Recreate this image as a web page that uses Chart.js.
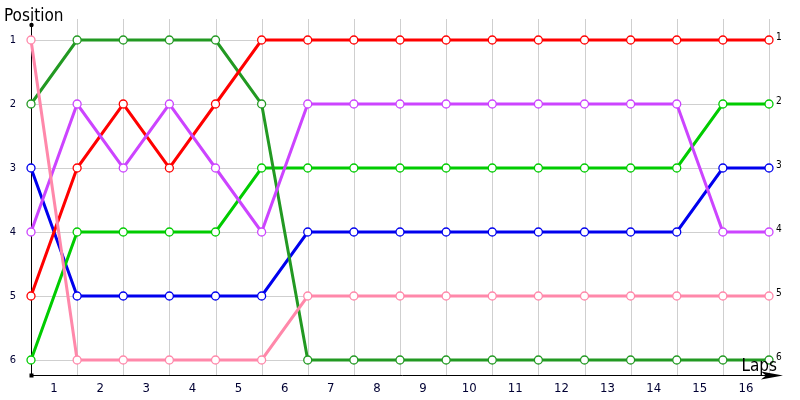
<!DOCTYPE html>
<html>
<head>
<meta charset="utf-8">
<script src="https://cdn.jsdelivr.net/npm/chart.js@4.4.1/dist/chart.umd.min.js"></script>
<style>
html,body{margin:0;padding:0;background:#fff;}
#wrap{width:800px;height:400px;position:relative;}
</style>
</head>
<body>
<div id="wrap"><canvas id="c" width="800" height="400"></canvas></div>
<script>
// ---- data ----
const laps = [0,1,2,3,4,5,6,7,8,9,10,11,12,13,14,15,16];
const lapLabels = ['1','2','3','4','5','6','7','8','9','10','11','12','13','14','15','16'];
const positionTicks = [1,2,3,4,5,6];
const seriesPink      = [1,6,6,6,6,6,5,5,5,5,5,5,5,5,5,5,5];
const seriesPurple    = [4,2,3,2,3,4,2,2,2,2,2,2,2,2,2,4,4];
const seriesRed       = [5,3,2,3,2,1,1,1,1,1,1,1,1,1,1,1,1];
const seriesDarkGreen = [2,1,1,1,1,2,6,6,6,6,6,6,6,6,6,6,6];
const seriesLightGreen= [6,4,4,4,4,3,3,3,3,3,3,3,3,3,3,2,2];
const seriesBlue      = [3,5,5,5,5,5,4,4,4,4,4,4,4,4,4,3,3];
const yTitle = 'Position';
const xTitle = 'Laps';

const FONT = '"DejaVu Sans Condensed","DejaVu Sans",sans-serif';

function ds(values, color){
  return {
    data: values.map((v,i)=>({x:laps[i], y:v})),
    borderColor: color,
    backgroundColor: '#ffffff',
    pointBackgroundColor: '#ffffff',
    pointBorderColor: color,
    pointRadius: 4,
    pointBorderWidth: 1.3,
    pointHoverRadius: 4,
    borderWidth: 3,
    tension: 0,
    clip: false
  };
}

const decor = {
  id: 'decor',
  beforeDatasetsDraw(chart){
    const ctx = chart.ctx, xs = chart.scales.x, ys = chart.scales.y;
    const x0 = xs.getPixelForValue(laps[0]);
    const x1 = xs.getPixelForValue(laps[laps.length-1]);
    const yTop = ys.getPixelForValue(1) - 21;
    const yAxis = ys.getPixelForValue(6) + 15;
    ctx.save();
    ctx.strokeStyle = '#cfcfcf';
    ctx.lineWidth = 1;
    laps.forEach(l=>{
      const px = Math.round(xs.getPixelForValue(l)) + 0.5;
      ctx.beginPath(); ctx.moveTo(px, yTop); ctx.lineTo(px, yAxis); ctx.stroke();
    });
    positionTicks.forEach(p=>{
      const py = Math.round(ys.getPixelForValue(p)) + 0.5;
      ctx.beginPath(); ctx.moveTo(x0, py); ctx.lineTo(x1, py); ctx.stroke();
    });
    // axes
    const ax = Math.round(x0) + 0.5, ay = Math.round(yAxis) + 0.5;
    ctx.strokeStyle = '#000';
    ctx.beginPath(); ctx.moveTo(ax, yTop + 6); ctx.lineTo(ax, ay); ctx.stroke();
    ctx.beginPath(); ctx.moveTo(ax, ay); ctx.lineTo(x1 + 4, ay); ctx.stroke();
    ctx.fillStyle = '#000';
    ctx.beginPath(); ctx.arc(ax, yTop + 6, 2.2, 0, Math.PI*2); ctx.fill();
    ctx.fillRect(ax - 2, ay - 2, 4, 4);
    // arrow head
    ctx.beginPath();
    ctx.moveTo(x1 + 14, ay);
    ctx.lineTo(x1 - 8, ay - 4);
    ctx.lineTo(x1 - 3, ay);
    ctx.lineTo(x1 - 8, ay + 4);
    ctx.closePath(); ctx.fill();
    ctx.restore();
  },
  afterDatasetsDraw(chart){
    const ctx = chart.ctx, xs = chart.scales.x, ys = chart.scales.y;
    const yAxis = ys.getPixelForValue(6) + 15;
    ctx.save();
    // y tick labels
    ctx.fillStyle = '#000033';
    ctx.font = '11px ' + FONT;
    ctx.textAlign = 'center'; ctx.textBaseline = 'middle';
    positionTicks.forEach(p=>{
      ctx.fillText(String(p), 13, ys.getPixelForValue(p));
    });
    // x tick labels centered between laps
    ctx.font = '13px ' + FONT;
    lapLabels.forEach((t,i)=>{
      const px = (xs.getPixelForValue(laps[i]) + xs.getPixelForValue(laps[i+1]))/2;
      ctx.fillText(t, px, yAxis + 14);
    });
    // end labels
    ctx.font = '10px ' + FONT;
    ctx.textAlign = 'left';
    ctx.fillStyle = '#000';
    chart.data.datasets.forEach((d,di)=>{
      const meta = chart.getDatasetMeta(di);
      const pt = meta.data[meta.data.length-1];
      const v = d.data[d.data.length-1].y;
      ctx.fillText(String(v), pt.x + 7, pt.y - 3);
    });
    // titles
    ctx.font = '17px ' + FONT;
    ctx.fillStyle = '#000';
    ctx.textAlign = 'left'; ctx.textBaseline = 'alphabetic';
    ctx.fillText(yTitle, 4, 21);
    ctx.textAlign = 'right';
    ctx.fillText(xTitle, 777, 371);
    ctx.restore();
  }
};

new Chart(document.getElementById('c'), {
  type: 'line',
  data: {
    datasets: [
      ds(seriesPink, '#ff88aa'),
      ds(seriesPurple, '#cc44ff'),
      ds(seriesRed, '#ff0000'),
      ds(seriesDarkGreen, '#229922'),
      ds(seriesLightGreen, '#00cc00'),
      ds(seriesBlue, '#0000ee')
    ]
  },
  options: {
    responsive: false,
    animation: false,
    events: [],
    layout: { padding: { left: 31, right: 31, top: 40, bottom: 40 } },
    plugins: { legend: { display: false }, tooltip: { enabled: false }, title: { display: false } },
    scales: {
      x: { type: 'linear', min: laps[0], max: laps[laps.length-1], display: false },
      y: { type: 'linear', min: 1, max: 6, reverse: true, display: false }
    }
  },
  plugins: [decor]
});
</script>
</body>
</html>
